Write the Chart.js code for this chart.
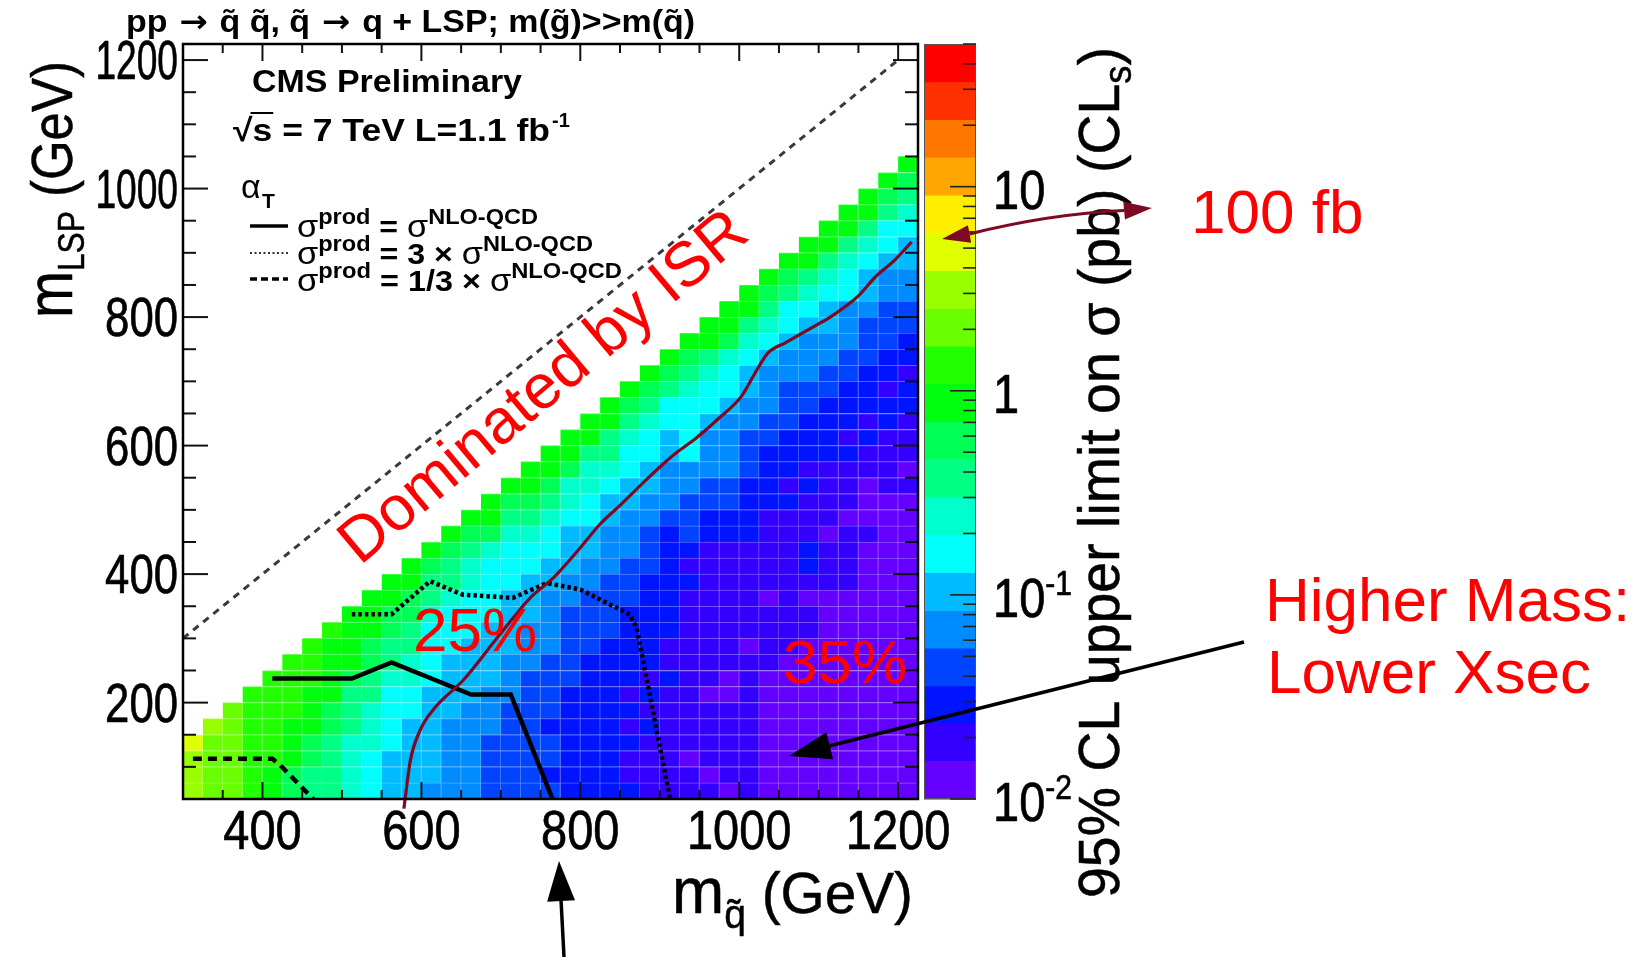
<!DOCTYPE html>
<html>
<head>
<meta charset="utf-8">
<title>CMS alphaT squark-LSP limit</title>
<script src="https://cdn.jsdelivr.net/npm/chart.js@4.4.1/dist/chart.umd.min.js"></script>
<style>
html,body{margin:0;padding:0;background:#fff;overflow:hidden;}
canvas{display:block;}
</style>
</head>
<body>
<canvas id="c" width="1646" height="958"></canvas>
<script>
// ------------------------------------------------------------------
// DATA
// ------------------------------------------------------------------
// squark mass bin centres (GeV), 25 GeV bins from 300 to 1225
const squarkMass = [312.5,337.5,362.5,387.5,412.5,437.5,462.5,487.5,512.5,537.5,562.5,587.5,612.5,637.5,662.5,687.5,712.5,737.5,762.5,787.5,812.5,837.5,862.5,887.5,912.5,937.5,962.5,987.5,1012.5,1037.5,1062.5,1087.5,1112.5,1137.5,1162.5,1187.5,1212.5];
// LSP mass bin centres (GeV), 25 GeV bins from 50
const lspMass = [62.5,87.5,112.5,137.5,162.5,187.5,212.5,237.5,262.5,287.5,312.5,337.5,362.5,387.5,412.5,437.5,462.5,487.5,512.5,537.5,562.5,587.5,612.5,637.5,662.5,687.5,712.5,737.5,762.5,787.5,812.5,837.5,862.5,887.5,912.5,937.5,962.5,987.5,1012.5,1037.5];
const binWidth = 25;
// representative 95% CL upper limit (pb) of each of the 20 colour bands of the z axis
const bandLimitPb = [0.0124,0.0189,0.0291,0.0444,0.0680,0.104,0.159,0.244,0.373,0.571,0.875,1.34,2.05,3.14,4.81,7.36,11.3,17.2,26.4,40.4];
// colour band read for every cell, per squark-mass column, from the lowest LSP bin upwards
const band312 = [13,13,13,14];
const band337 = [12,12,12,12,13];
const band362 = [12,12,12,12,12,12];
const band387 = [11,11,11,11,11,11,11];
const band412 = [10,10,11,11,11,11,11,11];
const band437 = [9,9,10,10,10,11,11,11,11];
const band462 = [8,8,9,9,10,10,10,11,11,11];
const band487 = [8,8,8,8,9,9,10,10,10,10,11];
const band512 = [7,7,7,7,8,8,8,9,10,10,10,10];
const band537 = [6,6,6,7,7,7,8,8,9,9,10,10,10];
const band562 = [5,5,5,6,6,6,6,7,8,8,9,9,10,10];
const band587 = [5,5,5,5,5,6,6,7,7,8,8,9,9,10,10];
const band612 = [4,5,5,5,5,5,5,6,6,6,6,7,8,8,9,10];
const band637 = [4,4,4,4,4,5,5,5,5,6,6,6,7,8,8,9,10];
const band662 = [4,4,4,4,4,4,5,5,5,5,6,6,6,7,7,8,9,10];
const band687 = [3,3,3,3,4,4,4,5,5,5,5,6,6,6,6,7,9,10,10];
const band712 = [3,3,3,3,3,3,4,4,4,5,5,5,5,6,6,6,7,8,9,10];
const band737 = [3,3,3,3,3,3,3,3,4,4,4,5,5,5,6,6,7,8,9,10,10];
const band762 = [3,2,3,3,2,3,3,3,3,4,4,4,4,5,5,6,6,7,8,9,10,10];
const band787 = [2,2,2,2,2,2,2,3,3,3,3,3,4,4,5,5,5,6,7,7,9,10,10];
const band812 = [2,2,2,2,2,2,2,2,2,3,3,3,3,4,4,5,5,6,6,7,7,8,10,10];
const band837 = [2,2,2,2,2,2,2,2,2,2,3,3,3,3,4,4,4,5,5,6,7,8,8,10,10];
const band862 = [2,1,1,2,1,2,1,2,2,2,2,2,3,3,3,4,4,4,5,5,6,6,7,8,9,10];
const band887 = [1,1,1,1,2,1,2,1,2,2,2,2,2,2,3,3,3,4,4,5,5,6,6,7,8,9,10];
const band912 = [1,1,1,1,1,1,1,2,1,1,2,2,2,2,2,2,2,3,4,4,4,5,5,6,6,8,9,10];
const band937 = [1,1,0,1,1,1,1,1,1,1,1,1,1,2,1,2,3,3,3,4,4,6,6,6,6,7,8,9,10];
const band962 = [1,0,1,1,1,1,0,1,1,1,1,1,1,1,1,1,2,2,3,3,4,4,4,5,6,6,7,8,10,10];
const band987 = [0,1,1,1,1,1,0,0,1,1,1,1,1,1,1,1,2,2,3,3,4,4,4,4,5,6,6,7,9,10,10];
const band1012 = [1,1,1,1,1,1,1,1,1,0,1,1,1,1,1,1,2,2,2,2,3,3,3,4,4,5,5,6,7,8,10,10];
const band1037 = [0,0,0,0,0,0,0,0,1,1,1,1,0,1,1,1,1,1,2,2,2,2,3,3,4,4,4,5,6,7,8,9,10];
const band1062 = [0,0,0,0,0,0,0,0,0,1,1,1,1,1,1,1,1,1,2,1,2,2,2,3,3,3,4,4,5,6,6,8,9,10];
const band1087 = [0,0,0,0,0,0,0,0,0,0,1,1,0,1,2,2,1,1,1,2,1,2,2,2,3,3,4,4,4,5,6,7,8,10,10];
const band1112 = [0,0,0,0,0,0,0,0,0,0,0,0,0,1,1,1,0,1,1,1,1,2,2,2,2,3,3,4,4,5,5,6,7,8,10,10];
const band1137 = [0,0,0,0,0,0,0,0,0,0,0,0,0,1,1,1,1,0,1,1,1,2,1,2,2,2,3,3,4,4,4,6,6,7,8,10,10];
const band1162 = [0,0,0,0,0,0,0,0,0,0,0,0,0,0,0,0,1,0,0,0,1,1,2,1,2,2,2,3,3,3,4,5,5,6,7,8,10,10];
const band1187 = [0,0,0,0,0,0,0,0,0,0,0,0,0,0,0,0,0,0,0,1,1,1,1,2,2,1,2,2,3,3,3,4,4,5,6,6,8,9,10];
const band1212 = [0,0,0,0,0,0,0,0,0,0,0,0,0,0,0,0,0,0,0,1,0,1,1,1,2,2,1,2,2,3,3,4,4,5,5,6,7,8,9,10];
const bandColumns = [band312,band337,band362,band387,band412,band437,band462,band487,band512,band537,band562,band587,band612,band637,band662,band687,band712,band737,band762,band787,band812,band837,band862,band887,band912,band937,band962,band987,band1012,band1037,band1062,band1087,band1112,band1137,band1162,band1187,band1212];

// exclusion contours (GeV)
const contourNominal = [{x:412.5,y:237.5},{x:512.5,y:237.5},{x:562.5,y:262.5},{x:662.5,y:212.5},{x:712.5,y:212.5},{x:765,y:50}];
const contourTimes3 = [{x:512.5,y:337.5},{x:562.5,y:337.5},{x:611,y:389},{x:652,y:368},{x:715,y:363},{x:758,y:386},{x:800,y:376},{x:862.5,y:337},{x:871,y:316},{x:913,y:50}];
const contourThird = [{x:312.5,y:112.5},{x:412.5,y:112.5},{x:422,y:103},{x:464,y:50}];
// m(LSP) = m(squark) line
const diagonalLine = [{x:300,y:300},{x:1200,y:1200}];
// hand-drawn dark red annotation curve
const annotationCurve = [{x:578,y:35},{x:586,y:109},{x:598,y:156},{x:617,y:192},{x:652,y:234},{x:695,y:300},{x:737,y:363},{x:766,y:394},{x:800,y:441},{x:825,y:478},{x:850,y:507},{x:879,y:542},{x:904,y:571},{x:922,y:590},{x:944,y:610},{x:973,y:641},{x:1003,y:677},{x:1020,y:713},{x:1036,y:744},{x:1058,y:760},{x:1095,y:786},{x:1117,y:802},{x:1150,y:833},{x:1171,y:862},{x:1196,y:889},{x:1217,y:917}];

// axis ticks
const xTickValues = [400,600,800,1000,1200];
const yTickValues = [200,400,600,800,1000,1200];
const zTickValues = [0.01,0.1,1,10];
const zMin = 0.01, zMax = 50, nBands = 20;

// ------------------------------------------------------------------
// STYLE
// ------------------------------------------------------------------
const palette = ['#6300ff','#3300ff','#0014ff','#0044ff','#008bff','#00bbff','#00fffc','#00ffcc','#00ff85','#00ff55','#00ff0e','#22ff00','#69ff00','#99ff00','#e0ff00','#ffee00','#ffa700','#ff7700','#ff3000','#ff0000'];
const FONT = '"Liberation Sans", Arial, Helvetica, sans-serif';
const ARROWFONT = '"DejaVu Sans", "Liberation Sans", sans-serif';
const RED = '#ff0000';
const MAROON = '#7d0a22';

function bandOf(v) {
  const step = (Math.log10(zMax) - Math.log10(zMin)) / nBands;
  let k = Math.floor((Math.log10(v) - Math.log10(zMin)) / step);
  return Math.max(0, Math.min(nBands - 1, k));
}
function lighten(hex, f) {
  const n = parseInt(hex.slice(1), 16);
  const r = (n >> 16) & 255, g = (n >> 8) & 255, b = n & 255;
  const m = c => Math.round(c + (255 - c) * f);
  return `rgb(${m(r)},${m(g)},${m(b)})`;
}

// one floating-bar dataset per LSP row
const cellDatasets = lspMass.map((m, i) => {
  const data = [], bg = [], bc = [];
  bandColumns.forEach((col, j) => {
    if (i < col.length) {
      const v = bandLimitPb[col[i]];
      data.push({x: squarkMass[j], y: [m - binWidth / 2, m + binWidth / 2], v});
      const c = palette[bandOf(v)];
      bg.push(c);
      bc.push(lighten(c, 0.33));
    }
  });
  return {
    type: 'bar', data, backgroundColor: bg, borderColor: bc,
    borderWidth: {top: 1, right: 1, bottom: 0, left: 0}, borderSkipped: false,
    grouped: false, barPercentage: 1, categoryPercentage: 1, order: 10
  };
});

function lineDs(data, color, width, dash, order, extra) {
  return Object.assign({
    type: 'line', data, borderColor: color, borderWidth: width, borderDash: dash,
    pointRadius: 0, fill: false, tension: 0, order, borderCapStyle: 'butt', borderJoinStyle: 'miter'
  }, extra || {});
}

// ------------------------------------------------------------------
// text helpers
// ------------------------------------------------------------------
function setFont(ctx, size, weight, family) { ctx.font = `${weight || 'normal'} ${size}px ${family || FONT}`; }
function rich(ctx, parts, x, y, o) {
  o = o || {};
  ctx.save();
  ctx.translate(x, y);
  if (o.rot) ctx.rotate(o.rot);
  let total = 0;
  const widths = parts.map(p => { setFont(ctx, p.size, p.weight, p.family); const w = ctx.measureText(p.t).width + (p.dx || 0); total += w; return w; });
  const sx = o.width ? o.width / total : (o.sx || 1);
  let ax = 0;
  if (o.align === 'right') ax = -total * sx; else if (o.align === 'center') ax = -total * sx / 2;
  ctx.translate(ax, 0);
  ctx.scale(sx, o.sy || 1);
  ctx.fillStyle = o.color || '#000';
  ctx.strokeStyle = o.color || '#000';
  ctx.lineWidth = o.stroke || 0;
  ctx.lineJoin = 'round';
  ctx.textBaseline = 'alphabetic';
  ctx.textAlign = 'left';
  let cx = 0;
  parts.forEach((p, i) => {
    setFont(ctx, p.size, p.weight, p.family);
    ctx.fillText(p.t, cx + (p.dx || 0), p.dy || 0);
    if (o.stroke) ctx.strokeText(p.t, cx + (p.dx || 0), p.dy || 0);
    cx += widths[i];
  });
  ctx.restore();
  return {total: total * sx, widths: widths.map(w => w * sx)};
}
function seg(ctx, x1, y1, x2, y2) { ctx.beginPath(); ctx.moveTo(x1, y1); ctx.lineTo(x2, y2); ctx.stroke(); }
function head(ctx, tx, ty, fx, fy, len, hw, color) {
  const a = Math.atan2(ty - fy, tx - fx);
  const bx = tx - len * Math.cos(a), by = ty - len * Math.sin(a);
  ctx.save(); ctx.fillStyle = color; ctx.beginPath();
  ctx.moveTo(tx, ty);
  ctx.lineTo(bx + hw * Math.sin(a), by - hw * Math.cos(a));
  ctx.lineTo(bx - hw * Math.sin(a), by + hw * Math.cos(a));
  ctx.closePath(); ctx.fill(); ctx.restore();
  return {bx, by};
}

// ------------------------------------------------------------------
// decoration plugin: frame, ticks, labels, colour bar, annotations
// ------------------------------------------------------------------
const decor = {
  id: 'decor',
  beforeDraw(chart) {
    const ctx = chart.ctx;
    ctx.save(); ctx.fillStyle = '#fff'; ctx.fillRect(0, 0, chart.width, chart.height); ctx.restore();
  },
  afterDatasetsDraw(chart) {
    const ctx = chart.ctx;
    const xs = chart.scales.x, ys = chart.scales.y, zs = chart.scales.z;
    const {left, right, top, bottom} = chart.chartArea;
    ctx.save();
    // ticks
    ctx.strokeStyle = '#111'; ctx.lineWidth = 2;
    for (let v = 350; v < 1225; v += 50) {
      const px = xs.getPixelForValue(v);
      const L = xTickValues.includes(v) ? 17 : 9;
      seg(ctx, px, bottom, px, bottom - L); seg(ctx, px, top, px, top + L);
    }
    for (let v = 100; v < 1225; v += 50) {
      const py = ys.getPixelForValue(v);
      const L = yTickValues.includes(v) ? 25 : 13;
      seg(ctx, left, py, left + L, py); seg(ctx, right, py, right - L, py);
    }
    // frame
    ctx.lineWidth = 2.5; ctx.strokeStyle = '#000';
    ctx.strokeRect(left, top, right - left, bottom - top);

    // tick labels
    xTickValues.forEach(v => rich(ctx, [{t: String(v), size: 47}], xs.getPixelForValue(v), 849, {align: 'center', sy: 1.17, stroke: 0.6}));
    yTickValues.forEach(v => {
      const s = String(v);
      rich(ctx, [{t: s, size: 47}], 178, ys.getPixelForValue(v) + 19, {align: 'right', sy: 1.17, sx: s.length > 3 ? 0.79 : 0.93, stroke: 0.6});
    });

    // axis titles
    rich(ctx, [{t: 'm', size: 64}, {t: 'q\u0303', size: 40, dy: 15}, {t: ' (GeV)', size: 58}], 672, 913, {width: 241, stroke: 0.5});
    rich(ctx, [{t: 'm', size: 64}, {t: 'LSP', size: 36, dy: 12}, {t: ' (GeV)', size: 58}], 72, 318, {rot: -Math.PI / 2, width: 257, stroke: 0.5});

    // colour bar
    const cbL = 924, cbR = 976;
    const step = (Math.log10(zMax) - Math.log10(zMin)) / nBands;
    for (let k = 0; k < nBands; k++) {
      const y0 = zs.getPixelForValue(zMin * Math.pow(10, k * step));
      const y1 = zs.getPixelForValue(zMin * Math.pow(10, (k + 1) * step));
      ctx.fillStyle = palette[k];
      ctx.fillRect(cbL, y1, cbR - cbL, y0 - y1 + 0.5);
    }
    ctx.lineWidth = 1; ctx.strokeStyle = '#555';
    ctx.strokeRect(cbL + 0.5, top + 0.5, cbR - cbL - 1, bottom - top - 1);
    ctx.strokeStyle = '#222'; ctx.lineWidth = 1.6;
    for (let e = -2; e <= 1; e++) {
      for (let m = 1; m <= 9; m++) {
        const v = m * Math.pow(10, e);
        if (v < zMin || v > zMax) continue;
        const py = zs.getPixelForValue(v);
        seg(ctx, cbR, py, cbR - (m === 1 ? 26 : 13), py);
      }
    }
    zTickValues.forEach(v => {
      const py = zs.getPixelForValue(v) + 22;
      if (v >= 1) rich(ctx, [{t: String(v), size: 47}], 993, py, {sy: 1.17, stroke: 0.6});
      else rich(ctx, [{t: '10', size: 47}, {t: String(Math.round(Math.log10(v))), size: 30, dy: -19}], 993, py, {sy: 1.17, stroke: 0.6});
    });
    rich(ctx, [{t: '95% CL upper limit on \u03c3 (pb) (CL', size: 58}, {t: 's', size: 38, dy: 12}, {t: ')', size: 58}], 1119, 898, {rot: -Math.PI / 2, width: 851, stroke: 0.5});

    // title (arrows from DejaVu, which has a longer arrow glyph)
    const tb = (t) => ({t, size: 31, weight: 'bold'});
    const ta = {t: ' \u2192 ', size: 31, weight: 'bold', family: ARROWFONT};
    rich(ctx, [tb('pp'), ta, tb('q\u0303 q\u0303, q\u0303'), ta, tb('q + LSP; m(g\u0303)>>m(q\u0303)')], 126, 32, {width: 569});

    // CMS labels
    rich(ctx, [{t: 'CMS Preliminary', size: 31, weight: 'bold'}], 252, 92, {width: 270});
    const r = rich(ctx, [{t: '\u221a', size: 32, weight: 'bold'}, {t: 's', size: 32, weight: 'bold'}, {t: ' = 7 TeV L=1.1 fb', size: 32, weight: 'bold'}], 233, 141, {width: 317});
    ctx.lineWidth = 2; ctx.strokeStyle = '#000';
    seg(ctx, 233 + r.widths[0] - 2, 141 - 28, 233 + r.widths[0] + r.widths[1] + 1, 141 - 28);
    rich(ctx, [{t: '-1', size: 20, weight: 'bold'}], 552, 127);

    // legend
    rich(ctx, [{t: '\u03b1', size: 34}], 241, 198);
    rich(ctx, [{t: 'T', size: 21, weight: 'bold'}], 262, 208);
    ctx.lineWidth = 3.5; ctx.strokeStyle = '#000'; ctx.setLineDash([]);
    seg(ctx, 250, 226, 288, 226);
    ctx.lineWidth = 2; ctx.setLineDash([2, 2.5]); ctx.strokeStyle = '#333';
    seg(ctx, 250, 253, 288, 253);
    ctx.lineWidth = 3.5; ctx.setLineDash([7, 4]); ctx.strokeStyle = '#000';
    seg(ctx, 250, 279, 288, 279);
    ctx.setLineDash([]);
    const sup = (t) => ({t, size: 22, weight: 'bold', dy: -13});
    rich(ctx, [{t: '\u03c3', size: 32}, sup('prod'), {t: ' = ', size: 30, weight: 'bold'}, {t: '\u03c3', size: 32}, sup('NLO-QCD')], 297, 237, {width: 241});
    rich(ctx, [{t: '\u03c3', size: 32}, sup('prod'), {t: ' = 3 \u00d7 ', size: 30, weight: 'bold'}, {t: '\u03c3', size: 32}, sup('NLO-QCD')], 297, 264, {width: 296});
    rich(ctx, [{t: '\u03c3', size: 32}, sup('prod'), {t: ' = 1/3 \u00d7 ', size: 30, weight: 'bold'}, {t: '\u03c3', size: 32}, sup('NLO-QCD')], 297, 291, {width: 325});

    // red annotations
    rich(ctx, [{t: 'Dominated by ISR', size: 63}], 360, 566, {rot: -40 * Math.PI / 180, color: RED});
    rich(ctx, [{t: '25%', size: 62}], 413, 651, {color: RED});
    rich(ctx, [{t: '35%', size: 62}], 783, 683, {color: RED});
    rich(ctx, [{t: '100 fb', size: 62}], 1191, 233, {color: RED});
    rich(ctx, [{t: 'Higher Mass:', size: 62}], 1265, 621, {color: RED});
    rich(ctx, [{t: 'Lower Xsec', size: 62}], 1267, 693, {color: RED});

    // arrows
    ctx.strokeStyle = MAROON; ctx.lineWidth = 3;
    const h1 = head(ctx, 942, 239, 975, 233, 28, 9, MAROON);
    const h2 = head(ctx, 1152, 208, 1120, 211, 28, 9, MAROON);
    ctx.beginPath(); ctx.moveTo(h1.bx, h1.by); ctx.quadraticCurveTo(1050, 214, h2.bx, h2.by); ctx.stroke();
    ctx.strokeStyle = '#000'; ctx.lineWidth = 3.5;
    const h3 = head(ctx, 789, 756, 1244, 642, 42, 14, '#000');
    seg(ctx, 1244, 642, h3.bx, h3.by);
    const h4 = head(ctx, 559, 861, 564, 957, 40, 14, '#000');
    seg(ctx, 564, 957, h4.bx, h4.by);
    ctx.restore();
  }
};

new Chart(document.getElementById('c'), {
  type: 'bar',
  data: {
    datasets: [
      ...cellDatasets,
      lineDs(diagonalLine, '#3a3a3a', 3, [7, 6], 6),
      lineDs(contourNominal, '#000', 4.5, [], 4),
      lineDs(contourTimes3, '#000', 4.5, [3.5, 3], 4),
      lineDs(contourThird, '#000', 4.5, [9, 6], 4),
      lineDs(annotationCurve, MAROON, 3.2, [], 1, {cubicInterpolationMode: 'monotone', clip: {left: 5, top: 5, right: 5, bottom: 14}})
    ]
  },
  options: {
    responsive: false, animation: false, devicePixelRatio: 1,
    layout: {padding: {left: 183, right: 728, top: 44, bottom: 159}},
    plugins: {legend: {display: false}, tooltip: {enabled: false}},
    scales: {
      x: {type: 'linear', min: 300, max: 1225, offset: false, display: false, grid: {display: false}},
      y: {type: 'linear', min: 50, max: 1225, beginAtZero: false, display: false, grid: {display: false}},
      z: {type: 'logarithmic', axis: 'y', min: zMin, max: zMax, display: false}
    }
  },
  plugins: [decor]
});
</script>
</body>
</html>
